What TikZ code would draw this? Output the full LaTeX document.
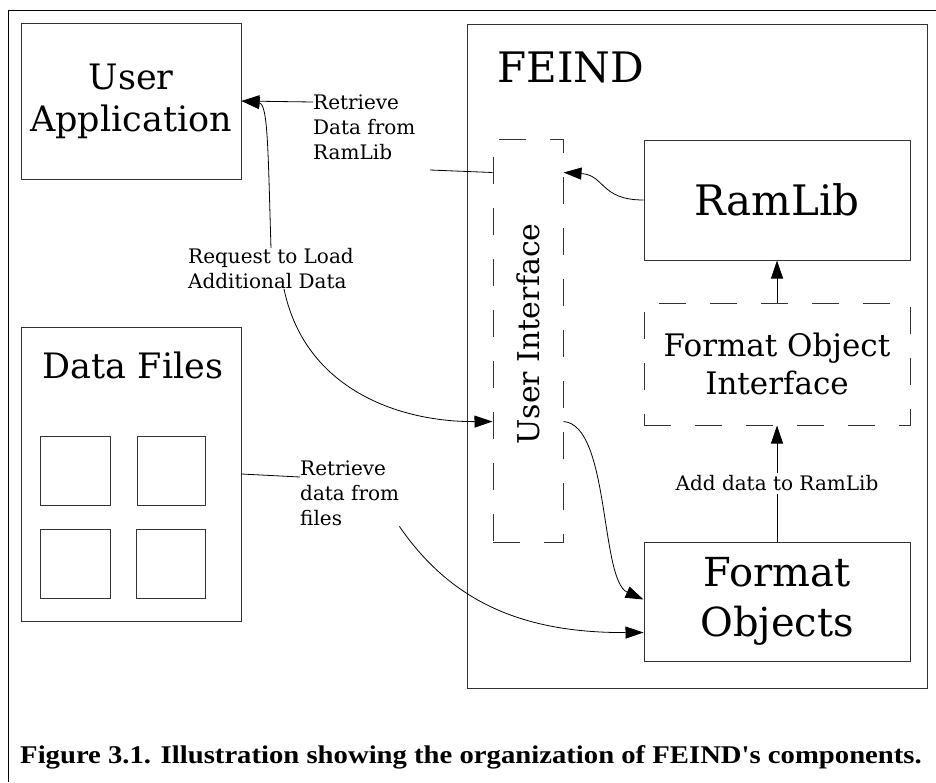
\documentclass[tikz,border=0pt]{standalone}
\usepackage{fontspec}
\setmainfont{DejaVu Serif}
\newfontfamily\capfont{Liberation Serif}
\usetikzlibrary{arrows.meta}

\begin{document}
\begin{tikzpicture}[x=1pt,y=-1pt,
    box/.style={draw=black!80,line width=1pt,inner sep=0pt,align=center},
    dashbox/.style={box,dash pattern=on 27pt off 24pt},
    lbl/.style={font=\fontsize{20}{25}\selectfont,align=left,inner sep=0pt},
    arr/.style={-{Triangle[length=18pt,width=12pt]},line width=0.8pt}]
  \useasboundingbox (0,0) rectangle (936,782);
  % outer frame, open at right and bottom
  \draw[line width=1pt] (936,10) -- (8,10) -- (8,782);

  % left side
  \node[box,minimum width=220,minimum height=156,font=\fontsize{35}{42}\selectfont] (app) at (131,101) {User\\Application};

  \node[box,minimum width=220,minimum height=294] (files) at (131,474) {};
  \node[anchor=base,inner sep=0pt,font=\fontsize{35}{35}\selectfont] (filestitle) at (133,378) {Data Files};
  \node[box,minimum width=70,minimum height=69] (f1) at (75,470.5) {};
  \node[box,minimum width=68,minimum height=69] (f2) at (171,470.5) {};
  \node[box,minimum width=70,minimum height=69] (f3) at (75,563.5) {};
  \node[box,minimum width=69,minimum height=69] (f4) at (170.5,563.5) {};

  % FEIND
  \node[box,minimum width=460,minimum height=664] (feind) at (697,356) {};
  \node[anchor=base west,inner sep=0pt,font=\fontsize{42}{42}\selectfont] (feindtitle) at (497,82) {FEIND};
  \node[dashbox,minimum width=70,minimum height=403] (ui) at (528,340.5) {};
  \node[rotate=90,inner sep=0pt,font=\fontsize{30}{30}\selectfont] (uitext) at (528,334) {User Interface};
  \node[box,minimum width=266,minimum height=120,font=\fontsize{42}{42}\selectfont] (ram) at (777,200) {RamLib};
  \node[dashbox,minimum width=266,minimum height=122,font=\fontsize{31}{38}\selectfont] (foi) at (777,364) {Format Object\\Interface};
  \node[box,minimum width=266,minimum height=119,font=\fontsize{40}{50}\selectfont] (fo) at (777,601.5) {Format\\Objects};

  % labels
  \node[lbl,anchor=north west] (rd) at (313,95) {Retrieve\\Data from\\RamLib};
  \node[lbl,anchor=north west] (rq) at (188,248) {Request to Load\\Additional Data};
  \node[lbl,anchor=north west] (fl) at (300,461) {Retrieve\\data from\\files};
  \coordinate (rdend) at (430,170);

  % connectors
  \draw[arr] (ram.west) .. controls (600,200) and (605,175) .. ([yshift=-34pt]ui.north east);
  \draw[line width=0.8pt] ([yshift=-34pt]ui.north west) -- (rdend);
  \draw[arr] ([yshift=-7pt]rd.north west) -- (app.east);
  \draw[arr] (rq.north) .. controls (268,150) and (268,104) .. (app.east);
  \draw[arr] ([xshift=13pt]rq.south) .. controls (305,390) and (400,422) .. ([yshift=-283pt]ui.north west);
  \draw[arr] ([yshift=-283pt]ui.north east) .. controls (610,425) and (600,580) .. ([yshift=-58pt]fo.north west);
  \draw[line width=0.8pt] (files.east) -- ([yshift=-16pt]fl.north west);
  \draw[arr] (fl.south east) .. controls (450,600) and (520,633) .. ([yshift=-91pt]fo.north west);
  \draw[arr] (fo.north) -- node[fill=white,font=\fontsize{20}{20}\selectfont,inner sep=3pt] {Add data to RamLib} (foi.south);
  \draw[arr] (foi.north) -- (ram.south);

  % caption
  \node[anchor=base west,inner sep=0pt,xscale=1.125,font=\capfont\bfseries\fontsize{25.5}{25.5}\selectfont] (caption) at (20,763) {Figure 3.1. Illustration showing the organization of FEIND\textquotesingle s components.};
\end{tikzpicture}
\end{document}
